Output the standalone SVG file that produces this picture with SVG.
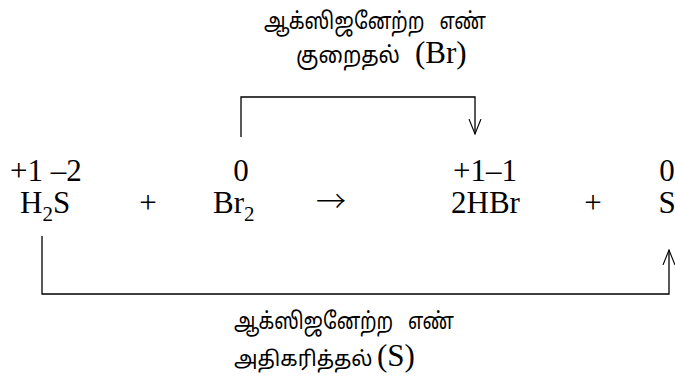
<svg xmlns="http://www.w3.org/2000/svg" width="675" height="380" viewBox="0 0 675 380">
<style>
.t{font-family:"Liberation Serif","Times New Roman",serif;font-size:31px;fill:#000}
.sub{font-size:21px}
.arr{font-family:"Noto Sans CJK JP","Noto Sans CJK SC","DejaVu Sans",sans-serif;font-size:30px;font-weight:300;fill:#000}
.ta{font-family:"Noto Sans Tamil","Latha","Noto Sans","DejaVu Sans",sans-serif;font-size:23px;fill:#000}
.c{fill:none;stroke:#000;stroke-width:1.3}
</style>
<defs>
<marker id="ah" markerWidth="16" markerHeight="14" refX="15" refY="7" orient="auto" markerUnits="userSpaceOnUse" viewBox="0 0 16 14">
<path d="M0,1 L15,7 L0,13" fill="none" stroke="#000" stroke-width="1.1"/>
</marker>
</defs>
<rect width="675" height="380" fill="#fff"/>
<g id="label-top">
<text class="ta" x="264" y="29" textLength="222" lengthAdjust="spacingAndGlyphs">ஆக்ஸிஜனேற்ற&#160;&#160; எண்</text>
<text class="ta" x="296" y="63" textLength="104" lengthAdjust="spacingAndGlyphs">குறைதல்</text>
<text class="t" x="415" y="63">(Br)</text>
</g>
<g id="connectors">
<path class="c" d="M241,137 V97 H475 V134" marker-end="url(#ah)"/>
<path class="c" d="M42,236 V294 H669 V250" marker-end="url(#ah)"/>
</g>
<g id="h2s">
<text class="t" x="10" y="181">+1 –2</text>
<text class="t" x="20" y="213">H<tspan class="sub" dy="8">2</tspan><tspan dy="-8">S</tspan></text>
</g>
<g id="plus1"><text class="t" x="148" y="213" text-anchor="middle">+</text></g>
<g id="br2">
<text class="t" x="241" y="181" text-anchor="middle">0</text>
<text class="t" x="213" y="213">Br<tspan class="sub" dy="8">2</tspan></text>
</g>
<g id="arrow"><text class="arr" x="331" y="212" text-anchor="middle">→</text></g>
<g id="hbr">
<text class="t" x="453" y="181">+1–1</text>
<text class="t" x="451" y="213">2HBr</text>
</g>
<g id="plus2"><text class="t" x="593" y="213" text-anchor="middle">+</text></g>
<g id="s">
<text class="t" x="667" y="181" text-anchor="middle">0</text>
<text class="t" x="667" y="213" text-anchor="middle">S</text>
</g>
<g id="label-bottom">
<text class="ta" x="234" y="329" textLength="220" lengthAdjust="spacingAndGlyphs">ஆக்ஸிஜனேற்ற&#160;&#160; எண்</text>
<text class="ta" x="234" y="366" style="font-size:21px">அதிகரித்தல்</text>
<text class="t" x="377" y="366">(S)</text>
</g>
</svg>
